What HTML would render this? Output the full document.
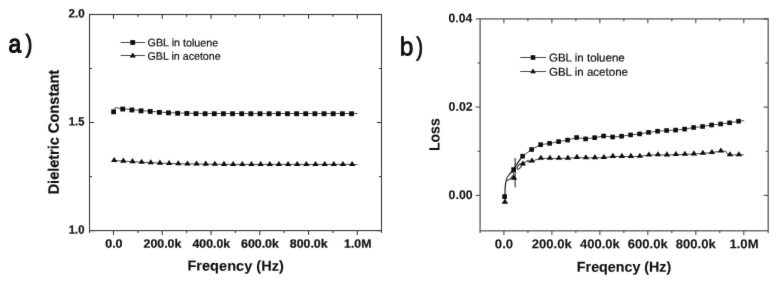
<!DOCTYPE html>
<html><head><meta charset="utf-8"><title>Dielectric constant and loss</title>
<style>
html,body{margin:0;padding:0;background:#fff;}
svg{display:block;font-family:"Liberation Sans",Arial,Helvetica,sans-serif;}
</style></head>
<body>
<svg width="778" height="285" viewBox="0 0 778 285">
<defs><filter id="soft" x="0" y="0" width="778" height="285" filterUnits="userSpaceOnUse"><feConvolveMatrix order="3" kernelMatrix="0.00640 0.06720 0.00640 0.06720 0.70560 0.06720 0.00640 0.06720 0.00640" divisor="1" edgeMode="duplicate" preserveAlpha="false"/></filter></defs>
<rect x="0" y="0" width="778" height="285" fill="#fff"/>
<g filter="url(#soft)">
<rect x="89.5" y="14.5" width="292.0" height="216.1" fill="none" stroke="#3a3a3a" stroke-width="1.1"/>
<line x1="89.50" y1="230.60" x2="89.50" y2="232.90" stroke="#3a3a3a" stroke-width="1.1"/>
<line x1="113.50" y1="230.60" x2="113.50" y2="234.90" stroke="#3a3a3a" stroke-width="1.1"/>
<line x1="113.50" y1="14.50" x2="113.50" y2="18.80" stroke="#3a3a3a" stroke-width="1.1"/>
<line x1="137.88" y1="230.60" x2="137.88" y2="232.90" stroke="#3a3a3a" stroke-width="1.1"/>
<line x1="137.88" y1="14.50" x2="137.88" y2="16.80" stroke="#3a3a3a" stroke-width="1.1"/>
<line x1="162.26" y1="230.60" x2="162.26" y2="234.90" stroke="#3a3a3a" stroke-width="1.1"/>
<line x1="162.26" y1="14.50" x2="162.26" y2="18.80" stroke="#3a3a3a" stroke-width="1.1"/>
<line x1="186.64" y1="230.60" x2="186.64" y2="232.90" stroke="#3a3a3a" stroke-width="1.1"/>
<line x1="186.64" y1="14.50" x2="186.64" y2="16.80" stroke="#3a3a3a" stroke-width="1.1"/>
<line x1="211.02" y1="230.60" x2="211.02" y2="234.90" stroke="#3a3a3a" stroke-width="1.1"/>
<line x1="211.02" y1="14.50" x2="211.02" y2="18.80" stroke="#3a3a3a" stroke-width="1.1"/>
<line x1="235.40" y1="230.60" x2="235.40" y2="232.90" stroke="#3a3a3a" stroke-width="1.1"/>
<line x1="235.40" y1="14.50" x2="235.40" y2="16.80" stroke="#3a3a3a" stroke-width="1.1"/>
<line x1="259.78" y1="230.60" x2="259.78" y2="234.90" stroke="#3a3a3a" stroke-width="1.1"/>
<line x1="259.78" y1="14.50" x2="259.78" y2="18.80" stroke="#3a3a3a" stroke-width="1.1"/>
<line x1="284.16" y1="230.60" x2="284.16" y2="232.90" stroke="#3a3a3a" stroke-width="1.1"/>
<line x1="284.16" y1="14.50" x2="284.16" y2="16.80" stroke="#3a3a3a" stroke-width="1.1"/>
<line x1="308.54" y1="230.60" x2="308.54" y2="234.90" stroke="#3a3a3a" stroke-width="1.1"/>
<line x1="308.54" y1="14.50" x2="308.54" y2="18.80" stroke="#3a3a3a" stroke-width="1.1"/>
<line x1="332.92" y1="230.60" x2="332.92" y2="232.90" stroke="#3a3a3a" stroke-width="1.1"/>
<line x1="332.92" y1="14.50" x2="332.92" y2="16.80" stroke="#3a3a3a" stroke-width="1.1"/>
<line x1="357.30" y1="230.60" x2="357.30" y2="234.90" stroke="#3a3a3a" stroke-width="1.1"/>
<line x1="357.30" y1="14.50" x2="357.30" y2="18.80" stroke="#3a3a3a" stroke-width="1.1"/>
<line x1="381.50" y1="230.60" x2="381.50" y2="232.90" stroke="#3a3a3a" stroke-width="1.1"/>
<line x1="89.50" y1="14.50" x2="94.00" y2="14.50" stroke="#3a3a3a" stroke-width="1.1"/>
<line x1="377.00" y1="14.50" x2="381.50" y2="14.50" stroke="#3a3a3a" stroke-width="1.1"/>
<line x1="89.50" y1="68.50" x2="92.00" y2="68.50" stroke="#3a3a3a" stroke-width="1.1"/>
<line x1="379.00" y1="68.50" x2="381.50" y2="68.50" stroke="#3a3a3a" stroke-width="1.1"/>
<line x1="89.50" y1="122.50" x2="94.00" y2="122.50" stroke="#3a3a3a" stroke-width="1.1"/>
<line x1="377.00" y1="122.50" x2="381.50" y2="122.50" stroke="#3a3a3a" stroke-width="1.1"/>
<line x1="89.50" y1="176.60" x2="92.00" y2="176.60" stroke="#3a3a3a" stroke-width="1.1"/>
<line x1="379.00" y1="176.60" x2="381.50" y2="176.60" stroke="#3a3a3a" stroke-width="1.1"/>
<line x1="89.50" y1="230.60" x2="94.00" y2="230.60" stroke="#3a3a3a" stroke-width="1.1"/>
<line x1="377.00" y1="230.60" x2="381.50" y2="230.60" stroke="#3a3a3a" stroke-width="1.1"/>
<text transform="translate(8.59,52.25) scale(0.9124,1) skewY(0.05)" font-size="24.90" fill="#111" stroke="#111" stroke-width="1.2">a<tspan dx="4.96" textLength="7.16" lengthAdjust="spacingAndGlyphs">)</tspan></text>
<text transform="translate(68.50,17.60) scale(0.9488,1) skewY(0.05)" font-size="12.18" font-weight="bold" fill="#111" stroke="#111" stroke-width="0.22">2.0</text>
<text transform="translate(68.83,125.50) scale(0.9183,1) skewY(0.05)" font-size="12.18" font-weight="bold" fill="#111" stroke="#111" stroke-width="0.22">1.5</text>
<text transform="translate(68.82,233.80) scale(0.9290,1) skewY(0.05)" font-size="12.18" font-weight="bold" fill="#111" stroke="#111" stroke-width="0.22">1.0</text>
<text transform="translate(105.20,247.75) scale(1.0276,1) skewY(0.05)" font-size="12.18" font-weight="bold" fill="#111" stroke="#111" stroke-width="0.22">0.0</text>
<text transform="translate(143.53,247.75) scale(1.0148,1) skewY(0.05)" font-size="12.18" font-weight="bold" fill="#111" stroke="#111" stroke-width="0.22">200.0k</text>
<text transform="translate(192.54,247.75) scale(1.0082,1) skewY(0.05)" font-size="12.18" font-weight="bold" fill="#111" stroke="#111" stroke-width="0.22">400.0k</text>
<text transform="translate(241.05,247.75) scale(1.0148,1) skewY(0.05)" font-size="12.18" font-weight="bold" fill="#111" stroke="#111" stroke-width="0.22">600.0k</text>
<text transform="translate(289.87,247.75) scale(1.0131,1) skewY(0.05)" font-size="12.18" font-weight="bold" fill="#111" stroke="#111" stroke-width="0.22">800.0k</text>
<text transform="translate(344.06,247.75) scale(1.0108,1) skewY(0.05)" font-size="12.18" font-weight="bold" fill="#111" stroke="#111" stroke-width="0.22">1.0M</text>
<text transform="translate(187.45,270.60) scale(1.0165,1) skewY(0.05)" font-size="14.35" font-weight="bold" fill="#111" stroke="#111" stroke-width="0.1">Freqency (Hz)</text>
<text transform="translate(58.80,194.34) rotate(-90) scale(0.9616,1) skewY(0.05)" font-size="15.07" font-weight="bold" fill="#111" stroke="#111" stroke-width="0.22">Dieletric</text>
<text transform="translate(58.80,133.19) rotate(-90) scale(0.9719,1) skewY(0.05)" font-size="15.07" font-weight="bold" fill="#111" stroke="#111" stroke-width="0.22">Constant</text>
<line x1="120.60" y1="42.50" x2="144.90" y2="42.50" stroke="#4a4a4a" stroke-width="1"/>
<rect x="130.30" y="40.10" width="4.8" height="4.8" fill="#0a0a0a"/>
<line x1="120.60" y1="55.50" x2="144.90" y2="55.50" stroke="#4a4a4a" stroke-width="1"/>
<polygon points="132.80,52.40 129.70,57.60 135.90,57.60" fill="#0a0a0a"/>
<text transform="translate(147.56,46.35) scale(0.9965,1) skewY(0.05)" font-size="10.79" font-weight="normal" fill="#111" stroke="#111" stroke-width="0.2">GBL in toluene</text>
<text transform="translate(147.57,59.75) scale(0.9889,1) skewY(0.05)" font-size="10.79" font-weight="normal" fill="#111" stroke="#111" stroke-width="0.2">GBL in acetone</text>
<polyline fill="none" stroke="#4a4a4a" stroke-width="1" stroke-linejoin="round" points="113.60,111.60 115.30,107.60 122.75,108.80 131.90,109.70 141.05,110.60 150.20,111.20 159.35,112.10 168.50,112.60 177.65,113.00 186.80,113.20 195.95,113.40 205.10,113.50 214.25,113.50 223.40,113.50 232.55,113.50 241.70,113.50 250.85,113.50 260.00,113.50 269.15,113.50 278.30,113.50 287.45,113.50 296.60,113.50 305.75,113.50 314.90,113.50 324.05,113.50 333.20,113.50 342.35,113.50 351.50,113.50 357.40,113.50"/>
<rect x="111.20" y="109.45" width="4.8" height="4.8" fill="#0a0a0a"/>
<rect x="120.35" y="106.65" width="4.8" height="4.8" fill="#0a0a0a"/>
<rect x="129.50" y="107.55" width="4.8" height="4.8" fill="#0a0a0a"/>
<rect x="138.65" y="108.45" width="4.8" height="4.8" fill="#0a0a0a"/>
<rect x="147.80" y="109.05" width="4.8" height="4.8" fill="#0a0a0a"/>
<rect x="156.95" y="109.95" width="4.8" height="4.8" fill="#0a0a0a"/>
<rect x="166.10" y="110.45" width="4.8" height="4.8" fill="#0a0a0a"/>
<rect x="175.25" y="110.85" width="4.8" height="4.8" fill="#0a0a0a"/>
<rect x="184.40" y="111.05" width="4.8" height="4.8" fill="#0a0a0a"/>
<rect x="193.55" y="111.25" width="4.8" height="4.8" fill="#0a0a0a"/>
<rect x="202.70" y="111.35" width="4.8" height="4.8" fill="#0a0a0a"/>
<rect x="211.85" y="111.35" width="4.8" height="4.8" fill="#0a0a0a"/>
<rect x="221.00" y="111.35" width="4.8" height="4.8" fill="#0a0a0a"/>
<rect x="230.15" y="111.35" width="4.8" height="4.8" fill="#0a0a0a"/>
<rect x="239.30" y="111.35" width="4.8" height="4.8" fill="#0a0a0a"/>
<rect x="248.45" y="111.35" width="4.8" height="4.8" fill="#0a0a0a"/>
<rect x="257.60" y="111.35" width="4.8" height="4.8" fill="#0a0a0a"/>
<rect x="266.75" y="111.35" width="4.8" height="4.8" fill="#0a0a0a"/>
<rect x="275.90" y="111.35" width="4.8" height="4.8" fill="#0a0a0a"/>
<rect x="285.05" y="111.35" width="4.8" height="4.8" fill="#0a0a0a"/>
<rect x="294.20" y="111.35" width="4.8" height="4.8" fill="#0a0a0a"/>
<rect x="303.35" y="111.35" width="4.8" height="4.8" fill="#0a0a0a"/>
<rect x="312.50" y="111.35" width="4.8" height="4.8" fill="#0a0a0a"/>
<rect x="321.65" y="111.35" width="4.8" height="4.8" fill="#0a0a0a"/>
<rect x="330.80" y="111.35" width="4.8" height="4.8" fill="#0a0a0a"/>
<rect x="339.95" y="111.35" width="4.8" height="4.8" fill="#0a0a0a"/>
<rect x="349.10" y="111.35" width="4.8" height="4.8" fill="#0a0a0a"/>
<polyline fill="none" stroke="#4a4a4a" stroke-width="1" stroke-linejoin="round" points="114.20,160.50 123.35,161.10 132.50,161.60 141.65,162.20 150.80,162.70 159.95,163.10 169.10,163.40 178.25,163.70 187.40,163.90 196.55,164.00 205.70,164.10 214.85,164.20 224.00,164.30 233.15,164.40 242.30,164.40 251.45,164.40 260.60,164.40 269.75,164.40 278.90,164.40 288.05,164.40 297.20,164.40 306.35,164.40 315.50,164.40 324.65,164.40 333.80,164.40 342.95,164.40 352.10,164.40 357.40,164.50"/>
<polygon points="114.20,157.00 111.00,162.10 117.40,162.10" fill="#0a0a0a"/>
<polygon points="123.35,157.60 120.15,162.70 126.55,162.70" fill="#0a0a0a"/>
<polygon points="132.50,158.10 129.30,163.20 135.70,163.20" fill="#0a0a0a"/>
<polygon points="141.65,158.70 138.45,163.80 144.85,163.80" fill="#0a0a0a"/>
<polygon points="150.80,159.20 147.60,164.30 154.00,164.30" fill="#0a0a0a"/>
<polygon points="159.95,159.60 156.75,164.70 163.15,164.70" fill="#0a0a0a"/>
<polygon points="169.10,159.90 165.90,165.00 172.30,165.00" fill="#0a0a0a"/>
<polygon points="178.25,160.20 175.05,165.30 181.45,165.30" fill="#0a0a0a"/>
<polygon points="187.40,160.40 184.20,165.50 190.60,165.50" fill="#0a0a0a"/>
<polygon points="196.55,160.50 193.35,165.60 199.75,165.60" fill="#0a0a0a"/>
<polygon points="205.70,160.60 202.50,165.70 208.90,165.70" fill="#0a0a0a"/>
<polygon points="214.85,160.70 211.65,165.80 218.05,165.80" fill="#0a0a0a"/>
<polygon points="224.00,160.80 220.80,165.90 227.20,165.90" fill="#0a0a0a"/>
<polygon points="233.15,160.90 229.95,166.00 236.35,166.00" fill="#0a0a0a"/>
<polygon points="242.30,160.90 239.10,166.00 245.50,166.00" fill="#0a0a0a"/>
<polygon points="251.45,160.90 248.25,166.00 254.65,166.00" fill="#0a0a0a"/>
<polygon points="260.60,160.90 257.40,166.00 263.80,166.00" fill="#0a0a0a"/>
<polygon points="269.75,160.90 266.55,166.00 272.95,166.00" fill="#0a0a0a"/>
<polygon points="278.90,160.90 275.70,166.00 282.10,166.00" fill="#0a0a0a"/>
<polygon points="288.05,160.90 284.85,166.00 291.25,166.00" fill="#0a0a0a"/>
<polygon points="297.20,160.90 294.00,166.00 300.40,166.00" fill="#0a0a0a"/>
<polygon points="306.35,160.90 303.15,166.00 309.55,166.00" fill="#0a0a0a"/>
<polygon points="315.50,160.90 312.30,166.00 318.70,166.00" fill="#0a0a0a"/>
<polygon points="324.65,160.90 321.45,166.00 327.85,166.00" fill="#0a0a0a"/>
<polygon points="333.80,160.90 330.60,166.00 337.00,166.00" fill="#0a0a0a"/>
<polygon points="342.95,160.90 339.75,166.00 346.15,166.00" fill="#0a0a0a"/>
<polygon points="352.10,160.90 348.90,166.00 355.30,166.00" fill="#0a0a0a"/>
<rect x="480.1" y="18.9" width="288.1" height="211.9" fill="none" stroke="#5a5a5a" stroke-width="1.3"/>
<line x1="480.10" y1="230.80" x2="480.10" y2="233.10" stroke="#5a5a5a" stroke-width="1.3"/>
<line x1="503.90" y1="230.80" x2="503.90" y2="235.10" stroke="#444" stroke-width="1.05"/>
<line x1="503.90" y1="18.90" x2="503.90" y2="23.20" stroke="#444" stroke-width="1.05"/>
<line x1="527.89" y1="230.80" x2="527.89" y2="233.10" stroke="#444" stroke-width="1.05"/>
<line x1="527.89" y1="18.90" x2="527.89" y2="21.20" stroke="#444" stroke-width="1.05"/>
<line x1="551.88" y1="230.80" x2="551.88" y2="235.10" stroke="#444" stroke-width="1.05"/>
<line x1="551.88" y1="18.90" x2="551.88" y2="23.20" stroke="#444" stroke-width="1.05"/>
<line x1="575.87" y1="230.80" x2="575.87" y2="233.10" stroke="#444" stroke-width="1.05"/>
<line x1="575.87" y1="18.90" x2="575.87" y2="21.20" stroke="#444" stroke-width="1.05"/>
<line x1="599.86" y1="230.80" x2="599.86" y2="235.10" stroke="#444" stroke-width="1.05"/>
<line x1="599.86" y1="18.90" x2="599.86" y2="23.20" stroke="#444" stroke-width="1.05"/>
<line x1="623.85" y1="230.80" x2="623.85" y2="233.10" stroke="#444" stroke-width="1.05"/>
<line x1="623.85" y1="18.90" x2="623.85" y2="21.20" stroke="#444" stroke-width="1.05"/>
<line x1="647.84" y1="230.80" x2="647.84" y2="235.10" stroke="#444" stroke-width="1.05"/>
<line x1="647.84" y1="18.90" x2="647.84" y2="23.20" stroke="#444" stroke-width="1.05"/>
<line x1="671.83" y1="230.80" x2="671.83" y2="233.10" stroke="#444" stroke-width="1.05"/>
<line x1="671.83" y1="18.90" x2="671.83" y2="21.20" stroke="#444" stroke-width="1.05"/>
<line x1="695.82" y1="230.80" x2="695.82" y2="235.10" stroke="#444" stroke-width="1.05"/>
<line x1="695.82" y1="18.90" x2="695.82" y2="23.20" stroke="#444" stroke-width="1.05"/>
<line x1="719.81" y1="230.80" x2="719.81" y2="233.10" stroke="#444" stroke-width="1.05"/>
<line x1="719.81" y1="18.90" x2="719.81" y2="21.20" stroke="#444" stroke-width="1.05"/>
<line x1="743.80" y1="230.80" x2="743.80" y2="235.10" stroke="#444" stroke-width="1.05"/>
<line x1="743.80" y1="18.90" x2="743.80" y2="23.20" stroke="#444" stroke-width="1.05"/>
<line x1="768.20" y1="230.80" x2="768.20" y2="233.10" stroke="#5a5a5a" stroke-width="1.3"/>
<line x1="475.60" y1="18.90" x2="480.10" y2="18.90" stroke="#444" stroke-width="1.05"/>
<line x1="763.70" y1="18.90" x2="768.20" y2="18.90" stroke="#444" stroke-width="1.05"/>
<line x1="477.60" y1="63.00" x2="480.10" y2="63.00" stroke="#444" stroke-width="1.05"/>
<line x1="765.70" y1="63.00" x2="768.20" y2="63.00" stroke="#444" stroke-width="1.05"/>
<line x1="475.60" y1="107.10" x2="480.10" y2="107.10" stroke="#444" stroke-width="1.05"/>
<line x1="763.70" y1="107.10" x2="768.20" y2="107.10" stroke="#444" stroke-width="1.05"/>
<line x1="477.60" y1="151.30" x2="480.10" y2="151.30" stroke="#444" stroke-width="1.05"/>
<line x1="765.70" y1="151.30" x2="768.20" y2="151.30" stroke="#444" stroke-width="1.05"/>
<line x1="475.60" y1="195.40" x2="480.10" y2="195.40" stroke="#444" stroke-width="1.05"/>
<line x1="763.70" y1="195.40" x2="768.20" y2="195.40" stroke="#444" stroke-width="1.05"/>
<text transform="translate(399.65,55.30) scale(0.9518,1) skewY(0.05)" font-size="25.80" fill="#111" stroke="#111" stroke-width="0.8">b<tspan dx="3.03" textLength="7.26" lengthAdjust="spacingAndGlyphs">)</tspan></text>
<text transform="translate(448.62,22.25) scale(0.9823,1) skewY(0.05)" font-size="12.32" font-weight="bold" fill="#111" stroke="#111" stroke-width="0.08">0.04</text>
<text transform="translate(448.61,110.70) scale(1.0007,1) skewY(0.05)" font-size="12.32" font-weight="bold" fill="#111" stroke="#111" stroke-width="0.08">0.02</text>
<text transform="translate(448.61,198.90) scale(1.0007,1) skewY(0.05)" font-size="12.32" font-weight="bold" fill="#111" stroke="#111" stroke-width="0.08">0.00</text>
<text transform="translate(494.87,248.25) scale(1.0304,1) skewY(0.05)" font-size="12.82" font-weight="bold" fill="#111" stroke="#111" stroke-width="0.08">0.0</text>
<text transform="translate(531.77,248.25) scale(1.0214,1) skewY(0.05)" font-size="12.82" font-weight="bold" fill="#111" stroke="#111" stroke-width="0.08">200.0k</text>
<text transform="translate(580.01,248.25) scale(1.0147,1) skewY(0.05)" font-size="12.82" font-weight="bold" fill="#111" stroke="#111" stroke-width="0.08">400.0k</text>
<text transform="translate(627.73,248.25) scale(1.0214,1) skewY(0.05)" font-size="12.82" font-weight="bold" fill="#111" stroke="#111" stroke-width="0.08">600.0k</text>
<text transform="translate(675.78,248.25) scale(1.0197,1) skewY(0.05)" font-size="12.82" font-weight="bold" fill="#111" stroke="#111" stroke-width="0.08">800.0k</text>
<text transform="translate(729.41,248.25) scale(1.0242,1) skewY(0.05)" font-size="12.82" font-weight="bold" fill="#111" stroke="#111" stroke-width="0.08">1.0M</text>
<text transform="translate(576.87,271.70) scale(0.9862,1) skewY(0.05)" font-size="14.49" font-weight="bold" fill="#111" stroke="#111" stroke-width="0.1">Freqency (Hz)</text>
<text transform="translate(439.40,151.12) rotate(-90) scale(0.9556,1) skewY(0.05)" font-size="14.78" font-weight="bold" fill="#111" stroke="#111" stroke-width="0.08">Loss</text>
<line x1="520.20" y1="57.50" x2="546.20" y2="57.50" stroke="#4a4a4a" stroke-width="1"/>
<rect x="530.70" y="55.20" width="4.6" height="4.6" fill="#0a0a0a"/>
<line x1="520.20" y1="71.50" x2="546.20" y2="71.50" stroke="#4a4a4a" stroke-width="1"/>
<polygon points="533.00,68.60 530.00,73.30 536.00,73.30" fill="#0a0a0a"/>
<text transform="translate(548.92,61.45) scale(1.0185,1) skewY(0.05)" font-size="11.33" font-weight="normal" fill="#111" stroke="#111" stroke-width="0.2">GBL in toluene</text>
<text transform="translate(548.92,75.80) scale(1.0188,1) skewY(0.05)" font-size="11.33" font-weight="normal" fill="#111" stroke="#111" stroke-width="0.2">GBL in acetone</text>
<path d="M504.9,199 L505.1,190 C505.3,183 506,179.5 508,176.5 C510,173.8 511.5,172 513,169.8 L522.4,156.2" fill="none" stroke="#1a1a1a" stroke-width="1.2" stroke-linejoin="round" stroke-linecap="round"/>
<polyline fill="none" stroke="#4a4a4a" stroke-width="1" stroke-linejoin="round" points="522.60,156.20 531.60,149.50 540.60,144.70 549.60,143.40 558.60,141.60 567.60,140.10 576.60,137.50 585.60,138.90 594.60,137.70 603.60,136.00 612.60,137.00 621.60,136.20 630.60,134.90 639.60,133.90 648.60,132.40 657.60,131.20 666.60,130.50 675.60,130.10 684.60,129.10 693.60,127.50 702.60,126.50 711.60,125.00 720.60,124.00 729.60,122.80 738.60,121.20 744.20,120.70"/>
<line x1="515.10" y1="158.00" x2="515.10" y2="187.30" stroke="#1a1a1a" stroke-width="1"/>
<ellipse cx="510.2" cy="176.3" rx="4.9" ry="1.7" transform="rotate(-50 510.2 176.3)" fill="#fff" stroke="#1a1a1a" stroke-width="1"/>
<ellipse cx="519.4" cy="166.5" rx="3.2" ry="1.5" transform="rotate(-52 519.4 166.5)" fill="#fff" stroke="#1a1a1a" stroke-width="1"/>
<path d="M521.3,164 L522.6,164.2 L526.5,161.3 C527.3,160.2 528.4,160 528.8,160.6 C528.2,161.3 527.4,161.6 527.6,162 L531.6,161.2" fill="none" stroke="#1a1a1a" stroke-width="1" stroke-linejoin="round" stroke-linecap="round"/>
<polyline fill="none" stroke="#4a4a4a" stroke-width="1" stroke-linejoin="round" points="531.60,161.20 540.60,158.40 549.60,158.40 558.60,158.40 567.60,158.30 576.60,157.50 585.60,157.90 594.60,157.80 603.60,157.60 612.60,156.50 621.60,156.50 630.60,156.50 639.60,156.40 648.60,155.10 657.60,154.90 666.60,155.00 675.60,154.70 684.60,154.40 693.60,154.00 702.60,153.40 711.60,152.60 720.60,151.20 726.00,151.30 727.80,154.70 729.60,154.90 738.60,154.90 743.80,154.80"/>
<rect x="502.30" y="194.30" width="4.6" height="4.6" fill="#0a0a0a"/>
<rect x="511.30" y="167.30" width="4.6" height="4.6" fill="#0a0a0a"/>
<rect x="520.30" y="153.90" width="4.6" height="4.6" fill="#0a0a0a"/>
<rect x="529.30" y="147.20" width="4.6" height="4.6" fill="#0a0a0a"/>
<rect x="538.30" y="142.40" width="4.6" height="4.6" fill="#0a0a0a"/>
<rect x="547.30" y="141.10" width="4.6" height="4.6" fill="#0a0a0a"/>
<rect x="556.30" y="139.30" width="4.6" height="4.6" fill="#0a0a0a"/>
<rect x="565.30" y="137.80" width="4.6" height="4.6" fill="#0a0a0a"/>
<rect x="574.30" y="135.20" width="4.6" height="4.6" fill="#0a0a0a"/>
<rect x="583.30" y="136.60" width="4.6" height="4.6" fill="#0a0a0a"/>
<rect x="592.30" y="135.40" width="4.6" height="4.6" fill="#0a0a0a"/>
<rect x="601.30" y="133.70" width="4.6" height="4.6" fill="#0a0a0a"/>
<rect x="610.30" y="134.70" width="4.6" height="4.6" fill="#0a0a0a"/>
<rect x="619.30" y="133.90" width="4.6" height="4.6" fill="#0a0a0a"/>
<rect x="628.30" y="132.60" width="4.6" height="4.6" fill="#0a0a0a"/>
<rect x="637.30" y="131.60" width="4.6" height="4.6" fill="#0a0a0a"/>
<rect x="646.30" y="130.10" width="4.6" height="4.6" fill="#0a0a0a"/>
<rect x="655.30" y="128.90" width="4.6" height="4.6" fill="#0a0a0a"/>
<rect x="664.30" y="128.20" width="4.6" height="4.6" fill="#0a0a0a"/>
<rect x="673.30" y="127.80" width="4.6" height="4.6" fill="#0a0a0a"/>
<rect x="682.30" y="126.80" width="4.6" height="4.6" fill="#0a0a0a"/>
<rect x="691.30" y="125.20" width="4.6" height="4.6" fill="#0a0a0a"/>
<rect x="700.30" y="124.20" width="4.6" height="4.6" fill="#0a0a0a"/>
<rect x="709.30" y="122.70" width="4.6" height="4.6" fill="#0a0a0a"/>
<rect x="718.30" y="121.70" width="4.6" height="4.6" fill="#0a0a0a"/>
<rect x="727.30" y="120.50" width="4.6" height="4.6" fill="#0a0a0a"/>
<rect x="736.30" y="118.90" width="4.6" height="4.6" fill="#0a0a0a"/>
<polygon points="504.90,198.60 501.70,203.70 508.10,203.70" fill="#0a0a0a"/>
<polygon points="513.90,174.60 510.70,179.70 517.10,179.70" fill="#0a0a0a"/>
<polygon points="522.90,160.50 519.70,165.60 526.10,165.60" fill="#0a0a0a"/>
<polygon points="531.90,157.50 528.70,162.60 535.10,162.60" fill="#0a0a0a"/>
<polygon points="540.90,154.70 537.70,159.80 544.10,159.80" fill="#0a0a0a"/>
<polygon points="549.90,154.70 546.70,159.80 553.10,159.80" fill="#0a0a0a"/>
<polygon points="558.90,154.70 555.70,159.80 562.10,159.80" fill="#0a0a0a"/>
<polygon points="567.90,154.60 564.70,159.70 571.10,159.70" fill="#0a0a0a"/>
<polygon points="576.90,153.80 573.70,158.90 580.10,158.90" fill="#0a0a0a"/>
<polygon points="585.90,154.20 582.70,159.30 589.10,159.30" fill="#0a0a0a"/>
<polygon points="594.90,154.10 591.70,159.20 598.10,159.20" fill="#0a0a0a"/>
<polygon points="603.90,153.90 600.70,159.00 607.10,159.00" fill="#0a0a0a"/>
<polygon points="612.90,152.80 609.70,157.90 616.10,157.90" fill="#0a0a0a"/>
<polygon points="621.90,152.80 618.70,157.90 625.10,157.90" fill="#0a0a0a"/>
<polygon points="630.90,152.80 627.70,157.90 634.10,157.90" fill="#0a0a0a"/>
<polygon points="639.90,152.70 636.70,157.80 643.10,157.80" fill="#0a0a0a"/>
<polygon points="648.90,151.40 645.70,156.50 652.10,156.50" fill="#0a0a0a"/>
<polygon points="657.90,151.20 654.70,156.30 661.10,156.30" fill="#0a0a0a"/>
<polygon points="666.90,151.30 663.70,156.40 670.10,156.40" fill="#0a0a0a"/>
<polygon points="675.90,151.00 672.70,156.10 679.10,156.10" fill="#0a0a0a"/>
<polygon points="684.90,150.70 681.70,155.80 688.10,155.80" fill="#0a0a0a"/>
<polygon points="693.90,150.30 690.70,155.40 697.10,155.40" fill="#0a0a0a"/>
<polygon points="702.90,149.70 699.70,154.80 706.10,154.80" fill="#0a0a0a"/>
<polygon points="711.90,148.90 708.70,154.00 715.10,154.00" fill="#0a0a0a"/>
<polygon points="720.90,147.50 717.70,152.60 724.10,152.60" fill="#0a0a0a"/>
<polygon points="729.90,151.20 726.70,156.30 733.10,156.30" fill="#0a0a0a"/>
<polygon points="738.90,151.20 735.70,156.30 742.10,156.30" fill="#0a0a0a"/>
</g>
</svg>
</body></html>
